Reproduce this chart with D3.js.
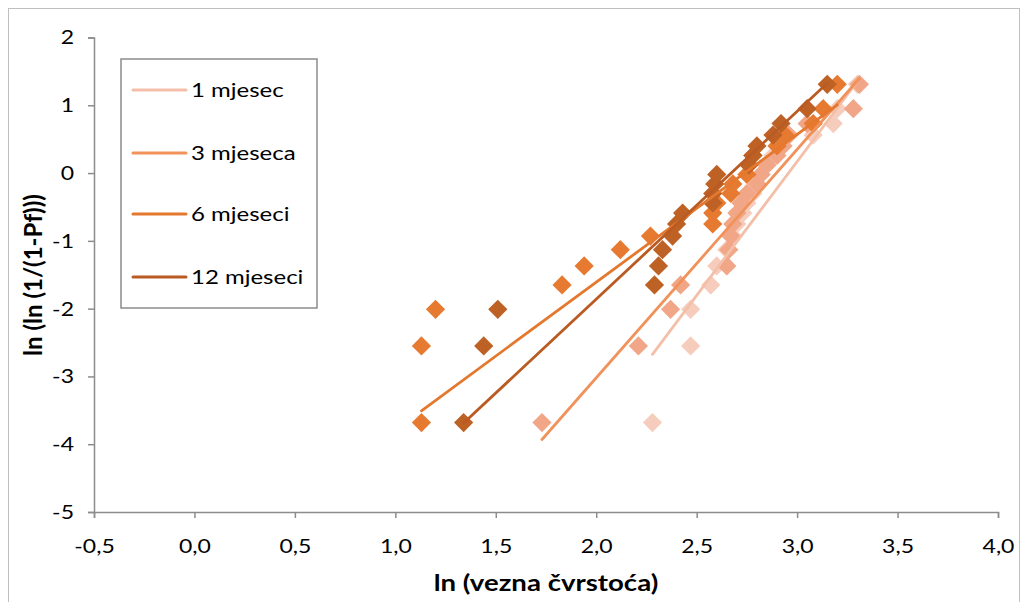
<!DOCTYPE html>
<html><head><meta charset="utf-8">
<script src="https://cdn.jsdelivr.net/npm/d3@7"></script>
<style>body{margin:0;background:#fff}svg{display:block}text{font-family:Lato,"Open Sans",sans-serif;fill:#000}</style>
</head><body><svg id="c" width="1028" height="602"></svg>
<script>
// ranked failure levels ln(ln(1/(1-Pf)))
const levels = [-3.68,-2.55,-2.01,-1.65,-1.37,-1.13,-0.93,-0.75,-0.59,-0.44,-0.30,-0.16,-0.02,0.12,0.26,0.40,0.56,0.73,0.95,1.31];
const seriesNames = ["1 mjesec","3 mjeseca","6 mjeseci","12 mjeseci"];
const x1m  = [2.28,2.47,2.47,2.57,2.60,2.65,2.68,2.70,2.73,2.75,2.78,2.80,2.82,2.85,2.88,2.92,3.08,3.18,3.20,3.30];
const x3m  = [1.73,2.21,2.37,2.42,2.65,2.66,2.67,2.68,2.70,2.72,2.75,2.80,2.82,2.85,2.90,2.93,2.96,3.05,3.28,3.31];
const x6m  = [1.13,1.13,1.20,1.83,1.94,2.12,2.27,2.58,2.58,2.60,2.67,2.68,2.75,2.76,2.78,2.90,2.94,3.08,3.13,3.20];
const x12m = [1.34,1.44,1.51,2.29,2.31,2.33,2.38,2.40,2.43,2.58,2.58,2.59,2.60,2.76,2.78,2.80,2.88,2.92,3.05,3.15];
// linear trendlines y = a + b*x
const trendA = [-11.68,-9.76,-5.97,-7.40];
const trendB = [3.95,3.37,2.18,2.77];
const xTicks = [-0.5,0,0.5,1,1.5,2,2.5,3,3.5,4];
const yTicks = [-5,-4,-3,-2,-1,0,1,2];
const markerColors = ["#F6CDBD","#F0A687","#E77A31","#BE6125"];
const lineColors = ["#F4BFA9","#F0925A","#E4782E","#B95B22"];

const xs = [x1m,x3m,x6m,x12m];
const svg = d3.select("#c");
const x = d3.scaleLinear().domain([-0.5,4]).range([94,998]);
const y = d3.scaleLinear().domain([-5,2]).range([512,37.5]);
const SX = 1.15; // horizontal text stretch of the original

// outer frame
svg.append("rect").attr("x",8.5).attr("y",8.5).attr("width",1011).attr("height",600)
  .attr("fill","none").attr("stroke","#BFBFBF");

// axes
const fmtX = d => d.toFixed(1).replace(".",",");
const fmtY = d => String(d);
const gx = svg.append("g").attr("transform",`translate(0,${y(-5)})`)
  .call(d3.axisBottom(x).tickValues(xTicks).tickFormat(fmtX).tickSize(6).tickPadding(21));
const gy = svg.append("g").attr("transform",`translate(${x(-0.5)},0)`)
  .call(d3.axisLeft(y).tickValues(yTicks).tickFormat(fmtY).tickSize(6).tickPadding(14));
[gx,gy].forEach(g=>{
  g.selectAll("path,line").attr("stroke","#8C8C8C").attr("stroke-width",1.5);
  g.selectAll("text").attr("font-size",20).attr("font-family","Lato,sans-serif").attr("fill","#000")
    .attr("transform",`scale(${SX},1)`);
});
gy.selectAll("text").attr("x",-20/SX);

// markers
const diamond = d3.symbol().type(d3.symbolSquare).size(185);
xs.forEach((arr,i)=>{
  svg.append("g").selectAll("path").data(arr.map((v,k)=>[v,levels[k]])).join("path")
    .attr("d",diamond)
    .attr("transform",d=>`translate(${x(d[0])},${y(d[1])}) rotate(45)`)
    .attr("fill",markerColors[i]);
});

// trendlines spanning each series' x range
const line = d3.line().x(d=>x(d[0])).y(d=>y(d[1]));
xs.forEach((arr,i)=>{
  const lo=d3.min(arr), hi=d3.max(arr);
  svg.append("path").attr("d",line([[lo,trendA[i]+trendB[i]*lo],[hi,trendA[i]+trendB[i]*hi]]))
    .attr("stroke",lineColors[i]).attr("stroke-width",2.8).attr("fill","none").attr("stroke-linecap","round");
});

// legend
const lg = svg.append("g");
lg.append("rect").attr("x",121).attr("y",59).attr("width",196).attr("height",249)
  .attr("fill","#fff").attr("stroke","#8C8C8C").attr("stroke-width",1.5);
const ly=[90,153,214,277];
seriesNames.forEach((n,i)=>{
  lg.append("line").attr("x1",133).attr("x2",186).attr("y1",ly[i]).attr("y2",ly[i])
    .attr("stroke",lineColors[i]).attr("stroke-width",3).attr("stroke-linecap","round");
  lg.append("text").attr("transform",`translate(191,${ly[i]}) scale(1.2,1)`)
    .attr("dy","0.35em").attr("font-size",20).text(n);
});

// axis titles
svg.append("text").attr("transform",`translate(546,591) scale(1.2,1)`).attr("text-anchor","middle")
  .attr("font-size",23).attr("font-weight","bold").text("ln (vezna čvrstoća)");
svg.append("text").attr("transform","translate(42,275) rotate(-90)").attr("text-anchor","middle")
  .attr("font-size",24).attr("font-weight","bold").text("ln (ln (1/(1-Pf)))");
</script></body></html>
